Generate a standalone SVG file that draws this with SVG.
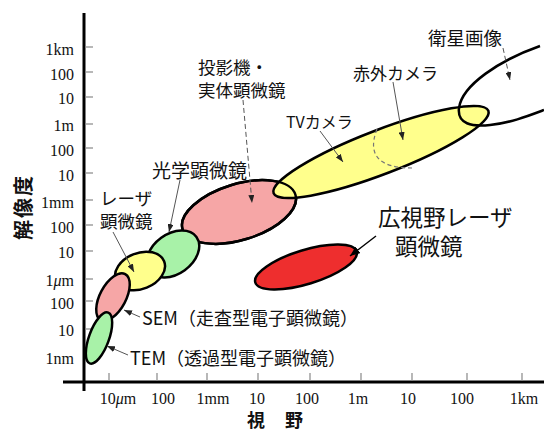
<svg xmlns="http://www.w3.org/2000/svg" width="544" height="434" viewBox="0 0 544 434">
<style>
.ax{stroke:#000;stroke-width:3;fill:none}
.tk{stroke:#888;stroke-width:1.2}
.num{font-family:"Liberation Serif","DejaVu Serif",serif;font-size:16px;fill:#111}
.lab{font-family:"Noto Sans CJK JP","Noto Sans",sans-serif;fill:#111}
.ttl{font-family:"Noto Sans CJK JP","Noto Sans",sans-serif;font-weight:bold;fill:#111}
.e{stroke:#000;stroke-width:2.5}
.y{fill:#FFFF8C}
.g{fill:#A8F2A8}
.p{fill:#F6A6A6}
.r{fill:#EE2E2E}
.ar{stroke:#555;stroke-width:1;fill:none}
.dash{stroke-dasharray:5 3}
</style>
<defs>
<marker id="ah" viewBox="0 0 8 6" refX="8" refY="3" markerWidth="8" markerHeight="6" markerUnits="userSpaceOnUse" orient="auto">
<path d="M0,0 L8,3 L0,6 z" fill="#222"/>
</marker>
<marker id="ahb" viewBox="0 0 10 8" refX="10" refY="4" markerWidth="10" markerHeight="8" markerUnits="userSpaceOnUse" orient="auto">
<path d="M0,0 L10,4 L0,8 z" fill="#000"/>
</marker>
</defs>
<rect width="544" height="434" fill="#fff"/>

<g id="axes">
<line class="ax" x1="84" y1="13" x2="84" y2="391"/>
<line class="ax" x1="63" y1="382" x2="544" y2="382"/>
<g class="tk">
<line x1="85" y1="47" x2="93" y2="47"/>
<line x1="85" y1="72" x2="93" y2="72"/>
<line x1="85" y1="97" x2="93" y2="97"/>
<line x1="85" y1="124" x2="93" y2="124"/>
<line x1="85" y1="148" x2="93" y2="148"/>
<line x1="85" y1="173" x2="93" y2="173"/>
<line x1="85" y1="200" x2="93" y2="200"/>
<line x1="85" y1="225" x2="93" y2="225"/>
<line x1="85" y1="251" x2="93" y2="251"/>
<line x1="85" y1="279" x2="93" y2="279"/>
<line x1="85" y1="301" x2="93" y2="301"/>
<line x1="85" y1="329" x2="93" y2="329"/>
<line x1="85" y1="357" x2="93" y2="357"/>
<line x1="109" y1="373" x2="109" y2="381"/>
<line x1="157" y1="373" x2="157" y2="381"/>
<line x1="207" y1="373" x2="207" y2="381"/>
<line x1="258" y1="373" x2="258" y2="381"/>
<line x1="310" y1="373" x2="310" y2="381"/>
<line x1="361" y1="373" x2="361" y2="381"/>
<line x1="412" y1="373" x2="412" y2="381"/>
<line x1="467" y1="373" x2="467" y2="381"/>
<line x1="522" y1="373" x2="522" y2="381"/>
</g>
<g class="num" text-anchor="end">
<text x="74" y="55">1km</text>
<text x="74" y="80">100</text>
<text x="74" y="104">10</text>
<text x="74" y="131">1m</text>
<text x="74" y="156">100</text>
<text x="74" y="181">10</text>
<text x="74" y="208">1mm</text>
<text x="74" y="233">100</text>
<text x="74" y="258">10</text>
<text x="74" y="286">1<tspan font-style="italic">μ</tspan>m</text>
<text x="74" y="309">100</text>
<text x="74" y="336">10</text>
<text x="74" y="364">1nm</text>
</g>
<g class="num" text-anchor="middle">
<text x="118" y="404">10<tspan font-style="italic">μ</tspan>m</text>
<text x="163" y="404">100</text>
<text x="213" y="404">1mm</text>
<text x="257" y="404">10</text>
<text x="307" y="404">100</text>
<text x="358" y="404">1m</text>
<text x="408" y="404">10</text>
<text x="462" y="404">100</text>
<text x="524" y="404">1km</text>
</g>
<text class="ttl" x="247" y="427" font-size="18" letter-spacing="8">視 野</text>
<text class="ttl" transform="translate(31,207) rotate(-90)" text-anchor="middle" font-size="20" letter-spacing="2">解像度</text>
</g>

<g id="n-projector"><ellipse class="e p" cx="239" cy="212" rx="59" ry="28" transform="rotate(-17 239 212)"/></g>
<g id="n-tv"><ellipse class="e y" cx="381" cy="152" rx="115" ry="22" transform="rotate(-21 381 152)"/>
<ellipse cx="239" cy="212" rx="59" ry="28" transform="rotate(-17 239 212)" fill="none" stroke="#000" stroke-width="2.5"/>
<path d="M377,129 Q362,168 412,168" fill="none" stroke="#777" stroke-width="1.2" stroke-dasharray="4 3"/></g>
<g id="n-satellite"><path d="M540,46 C500,60 462,85 459,108 C457,124 472,127 490,125 C510,123 528,116 544,110" fill="none" stroke="#000" stroke-width="2.5"/></g>
<g id="n-optical"><ellipse class="e g" cx="173" cy="254" rx="29" ry="20" transform="rotate(-36 173 254)"/></g>
<g id="n-laser"><ellipse class="e y" cx="140" cy="271" rx="26" ry="18" transform="rotate(-22 140 271)"/></g>
<g id="n-sem"><ellipse class="e p" cx="113" cy="297" rx="26" ry="13" transform="rotate(-62 113 297)"/></g>
<g id="n-tem"><ellipse class="e g" cx="99" cy="338" rx="27" ry="10" transform="rotate(-70 99 338)"/></g>
<g id="n-widefield"><ellipse class="e r" cx="306" cy="267" rx="53" ry="17" transform="rotate(-17 306 267)"/></g>

<g id="connectors">
<line class="ar dash" x1="503" y1="48" x2="510" y2="80" marker-end="url(#ah)"/>
<line class="ar" x1="393" y1="82" x2="403" y2="140" marker-end="url(#ah)"/>
<line class="ar" x1="320" y1="131" x2="343" y2="162" marker-end="url(#ah)"/>
<line class="ar dash" x1="243" y1="100" x2="252" y2="203" marker-end="url(#ah)"/>
<line class="ar" x1="180" y1="180" x2="169" y2="232" marker-end="url(#ah)"/>
<line class="ar" x1="113" y1="232" x2="134" y2="272" marker-end="url(#ah)"/>
<line class="ar" x1="140" y1="317" x2="124" y2="310" marker-end="url(#ah)"/>
<line class="ar" x1="128" y1="355" x2="107" y2="346" marker-end="url(#ah)"/>
<line x1="376" y1="236" x2="350" y2="256" stroke="#000" stroke-width="1.4" marker-end="url(#ahb)"/>
</g>

<g id="labels" class="lab">
<text x="428" y="45" font-size="18.5">衛星画像</text>
<text x="353" y="80" font-size="17">赤外カメラ</text>
<text x="286" y="128" font-size="16">TVカメラ</text>
<text x="198" y="74" font-size="17.5">投影機・</text>
<text x="198" y="97" font-size="17.5">実体顕微鏡</text>
<text x="152" y="178" font-size="19">光学顕微鏡</text>
<text x="100" y="205" font-size="17.5">レーザ</text>
<text x="100" y="228" font-size="17.5">顕微鏡</text>
<text x="142" y="325" font-size="18">SEM（走査型電子顕微鏡）</text>
<text x="130" y="365" font-size="18">TEM（透過型電子顕微鏡）</text>
<text x="378" y="226" font-size="22.5">広視野レーザ</text>
<text x="395" y="255" font-size="22.5">顕微鏡</text>
</g>
</svg>
